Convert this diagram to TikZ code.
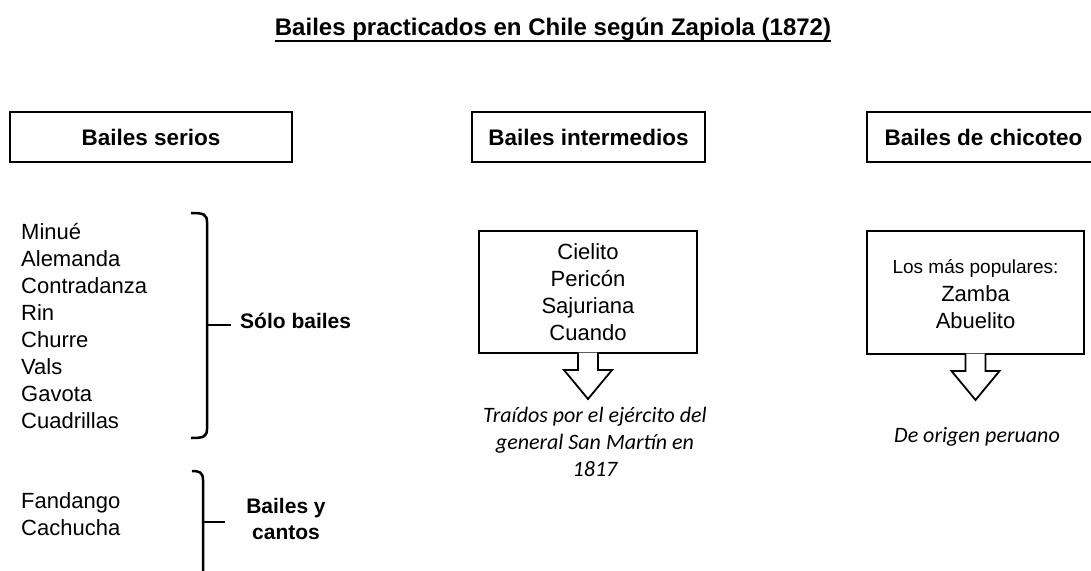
\documentclass[tikz,border=0pt]{standalone}
\usepackage{fontspec}
\setmainfont{Liberation Sans}
\newfontfamily\calib{Carlito}
\usetikzlibrary{calc}
\begin{document}
\begin{tikzpicture}[x=1pt,y=-1pt,
  titlefont/.style={inner sep=0pt, font=\fontsize{24}{28}\selectfont\bfseries},
  hdr/.style={draw, line width=2.6pt, minimum height=50pt, inner sep=0pt, font=\fontsize{22.5}{27}\selectfont\bfseries},
  item/.style={inner sep=0pt, anchor=base west, font=\fontsize{22}{26}\selectfont},
  citem/.style={inner sep=0pt, anchor=base, font=\fontsize{22}{26}\selectfont},
  small/.style={inner sep=0pt, anchor=base, font=\fontsize{19}{23}\selectfont},
  lbl/.style={inner sep=0pt, font=\fontsize{21}{25}\selectfont\bfseries},
  note/.style={inner sep=0pt, anchor=base, font=\fontsize{22}{26}\selectfont\calib\itshape},
  cbox/.style={draw, line width=2pt, inner sep=0pt},
  brace/.style={line width=2.5pt, line cap=butt},
  blk/.style={fill=white, line width=1.8pt, line join=miter}]
\useasboundingbox (0,0) rectangle (1091,570);
\fill[white] (0,0) rectangle (1091,570);

% title
\node[titlefont, anchor=base] (title) at (553,35) {Bailes practicados en Chile según Zapiola (1872)};
\draw[line width=2.4pt] ([yshift=-6pt]title.base west) -- ([yshift=-6pt]title.base east);

% headers
\node[hdr, minimum width=282pt] (h1) at (151,137) {Bailes serios};
\node[hdr, minimum width=233pt] (h2) at (588.5,137) {Bailes intermedios};
\node[hdr, minimum width=233pt] (h3) at (983.5,137) {Bailes de chicoteo};

% left list
\foreach \t [count=\i] in {Minué,Alemanda,Contradanza,Rin,Churre,Vals,Gavota,Cuadrillas}
  \node[item] (s\i) at (21,{239+27.1*(\i-1)}) {\t};
\node[item] (f1) at (21,508) {Fandango};
\node[item] (f2) at (21,535) {Cachucha};

% braces
\draw[brace] (191,213) .. controls (203,213) and (207,214) .. (207,222) -- (207,429)
  .. controls (207,437) and (203,438) .. (191,438);
\draw[brace] (207,325) -- (231,325);
\node[lbl, anchor=base west] (solo) at (240,328) {Sólo bailes};

\draw[brace] (192,471) .. controls (199,471) and (203,472) .. (203,480) -- (203,580);
\draw[brace] (203,522) -- (225,522);
\node[lbl, anchor=base] (by) at (286,513) {Bailes y};
\node[lbl, anchor=base] (ca) at (286,539) {cantos};

% middle box
\node[cbox, minimum width=218pt, minimum height=122pt] (midbox) at (588,292) {};
\foreach \t [count=\i] in {Cielito,Pericón,Sajuriana,Cuando}
  \node[citem] (m\i) at (588,{259+27.3*(\i-1)}) {\t};
\filldraw[blk] ($(midbox.south)+(-10,-1.3)$) -- ($(midbox.south)+(-10,16)$) -- ($(midbox.south)+(-24,16)$)
  -- ($(midbox.south)+(0,45)$) -- ($(midbox.south)+(24,16)$) -- ($(midbox.south)+(10,16)$) -- ($(midbox.south)+(10,-1.3)$);
\node[note] (n1) at (595,422) {Traídos por el ejército del};
\node[note] (n2) at (595,449) {general San Martín en};
\node[note] (n3) at (595,476) {1817};

% right box
\node[cbox, minimum width=217pt, minimum height=123pt] (rbox) at (975.5,292.5) {};
\node[small] (r1) at (975.5,273) {Los más populares:};
\node[citem] (r2) at (975.5,301) {Zamba};
\node[citem] (r3) at (975.5,328) {Abuelito};
\filldraw[blk] ($(rbox.south)+(-10,-1.3)$) -- ($(rbox.south)+(-10,16)$) -- ($(rbox.south)+(-24,16)$)
  -- ($(rbox.south)+(0,45)$) -- ($(rbox.south)+(24,16)$) -- ($(rbox.south)+(10,16)$) -- ($(rbox.south)+(10,-1.3)$);
\node[note] (n4) at (977,442) {De origen peruano};
\end{tikzpicture}
\end{document}
